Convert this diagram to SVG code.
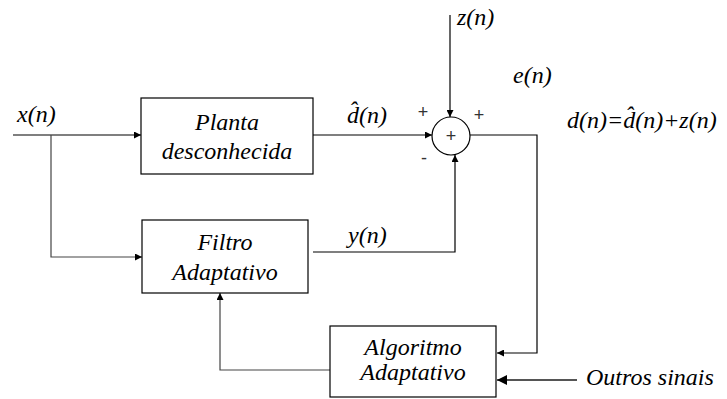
<svg xmlns="http://www.w3.org/2000/svg" width="727" height="399" viewBox="0 0 727 399">
<defs>
<marker id="ar" viewBox="0 0 10 10" refX="10" refY="5" markerWidth="9" markerHeight="7" markerUnits="userSpaceOnUse" orient="auto">
<path d="M0,0 L10,5 L0,10 z" fill="#000"/>
</marker>
<marker id="arB" viewBox="0 0 10 10" refX="10" refY="5" markerWidth="12" markerHeight="10" markerUnits="userSpaceOnUse" orient="auto">
<path d="M0,0 L10,5 L0,10 z" fill="#000"/>
</marker>
</defs>
<style>
.box{fill:#fff;stroke:#000;stroke-width:1.2}
.ln{fill:none;stroke:#000;stroke-width:1.2}
.lg{fill:none;stroke:#444;stroke-width:1.2}
.c{text-anchor:middle}
</style>
<rect width="727" height="399" fill="#fff"/>
<g id="connectors">
<path class="ln" d="M13,135 H141" marker-end="url(#ar)"/>
<path class="lg" d="M51,135 V257 H142" marker-end="url(#ar)"/>
<path class="ln" d="M313,135 H432" marker-end="url(#ar)"/>
<path class="ln" d="M450,15 V117" marker-end="url(#ar)"/>
<path class="ln" d="M313,252 H455 V155" marker-end="url(#ar)"/>
<path class="ln" d="M470,135 H537 V353 H497" marker-end="url(#ar)"/>
<path class="lg" d="M330,370 H220 V293" marker-end="url(#ar)"/>
<path d="M577,380 H497" fill="none" stroke="#555" stroke-width="2" marker-end="url(#arB)"/>
</g>
<g font-family="Liberation Serif, Times New Roman, serif" font-style="italic" font-size="24" fill="#000">
<g id="planta">
<rect class="box" x="141" y="98" width="172" height="76"/>
<text class="c" x="227" y="130">Planta</text>
<text class="c" x="227" y="159">desconhecida</text>
</g>
<g id="filtro">
<rect class="box" x="142" y="220" width="166" height="73"/>
<text class="c" x="225" y="250">Filtro</text>
<text class="c" x="225" y="280">Adaptativo</text>
</g>
<g id="algoritmo">
<rect class="box" x="330" y="326" width="166" height="71"/>
<text class="c" x="413" y="355">Algoritmo</text>
<text class="c" x="413" y="380">Adaptativo</text>
</g>
<g id="labels">
<text x="17" y="122">x(n)</text>
<text x="347" y="123">d̂(n)</text>
<text x="457" y="25">z(n)</text>
<text x="513" y="83">e(n)</text>
<text x="567" y="128">d(n)=d̂(n)+z(n)</text>
<text x="348" y="243">y(n)</text>
<text x="586" y="385">Outros sinais</text>
</g>
</g>
<g id="somador" font-family="Liberation Sans, Arial, sans-serif" font-size="18" fill="#333">
<circle cx="451" cy="136" r="19" fill="#fff" stroke="#000" stroke-width="1.2"/>
<text class="c" x="451" y="142">+</text>
<text class="c" x="423" y="118">+</text>
<text class="c" x="479" y="121">+</text>
<text class="c" x="424" y="164">-</text>
</g>
</svg>
